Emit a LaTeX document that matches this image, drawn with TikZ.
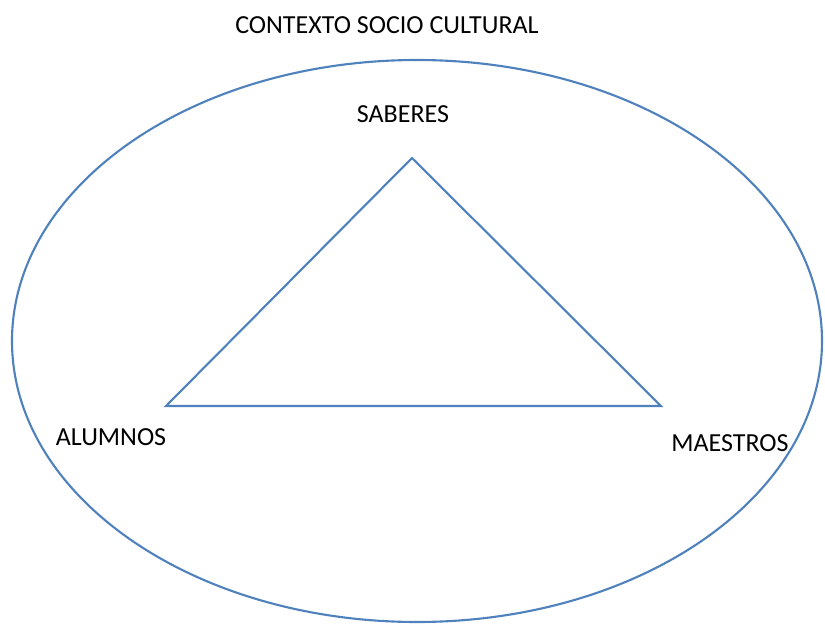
\documentclass[tikz,border=0pt]{standalone}
\usepackage{fontspec}
\setmainfont{Carlito}
\usepackage{xcolor}
\usepackage{tikz}
\definecolor{linea}{RGB}{79,129,189}

\begin{document}
\begin{tikzpicture}[x=0.025cm,y=-0.025cm,
    etiqueta/.style={font=\fontsize{18.5}{22}\selectfont,inner sep=0pt},
    trazo/.style={draw=linea,line width=1.5pt}]
    \useasboundingbox (0,0) rectangle (825,625);
    \draw[trazo] (417,341) ellipse [x radius=405, y radius=281];
    \coordinate (s) at (412,158);
    \coordinate (a) at (166,406);
    \coordinate (m) at (661,406);
    \draw[trazo,line join=miter] (s) -- (a) -- (m) -- cycle;
    \node[etiqueta] (contexto) at (387,25) {CONTEXTO SOCIO CULTURAL};
    \node[etiqueta] (saberes) at (403,114) {SABERES};
    \node[etiqueta] (alumnos) at (111,437) {ALUMNOS};
    \node[etiqueta] (maestros) at (730,443) {MAESTROS};
\end{tikzpicture}
\end{document}
